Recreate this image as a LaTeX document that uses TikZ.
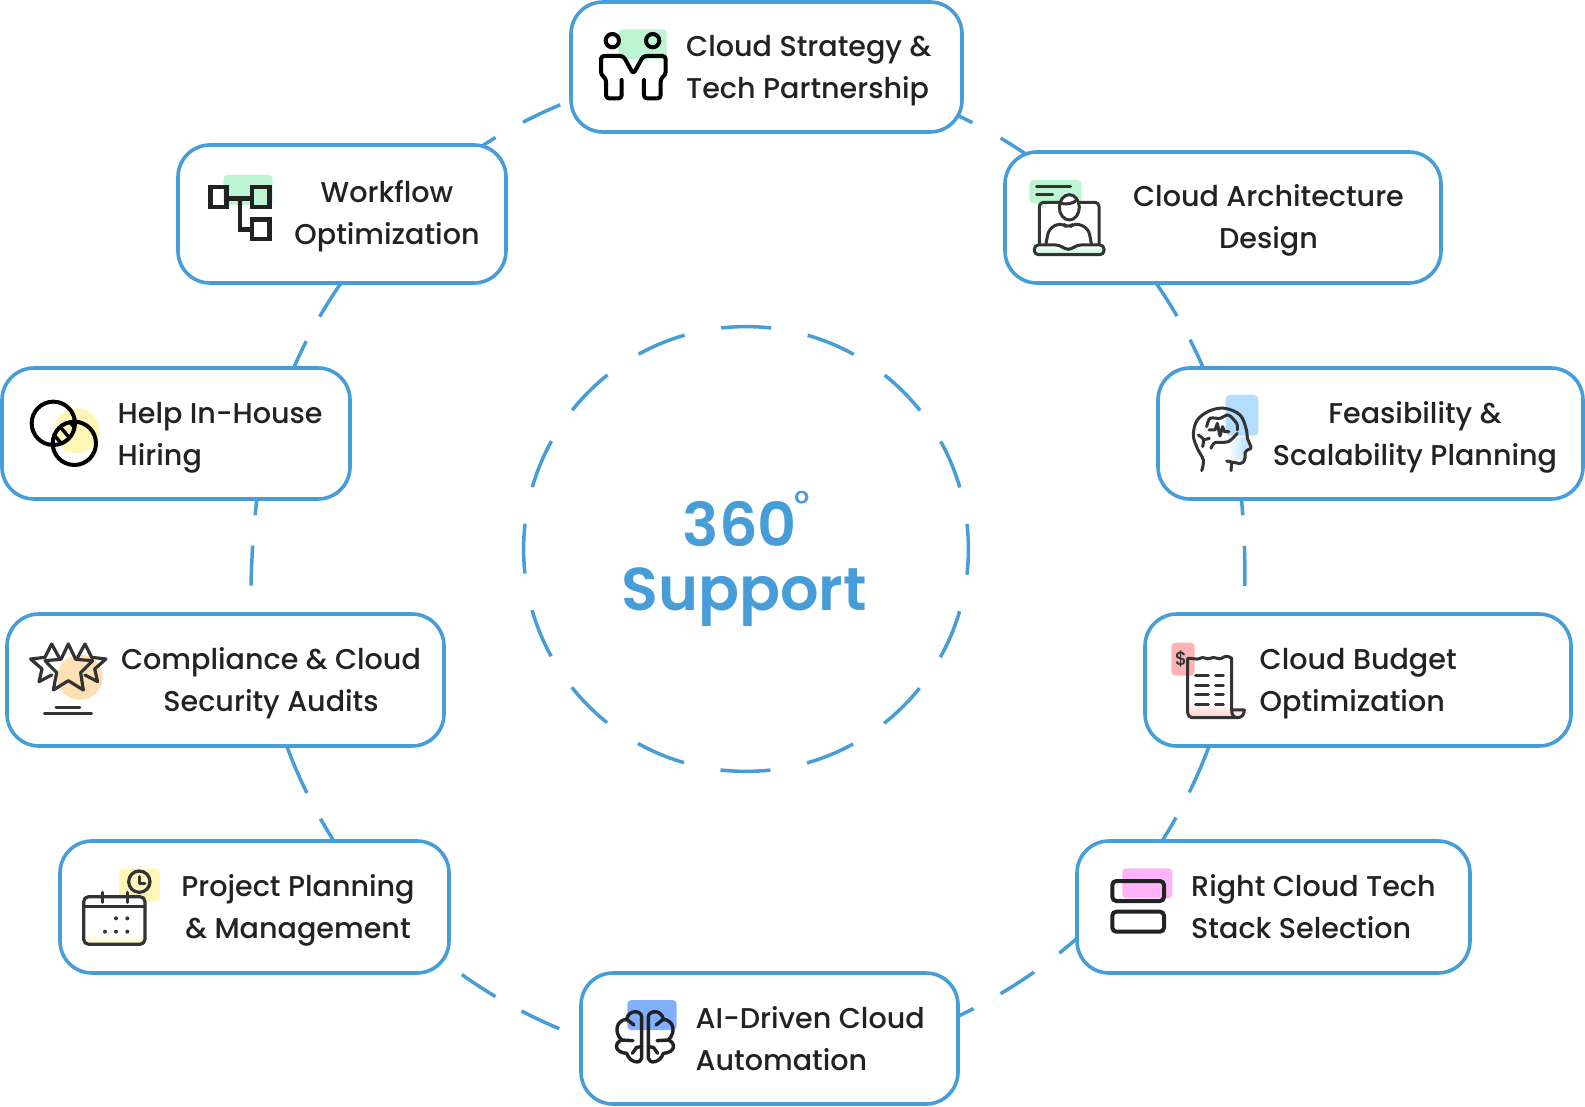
\documentclass[tikz,border=0pt]{standalone}
\usepackage{fontspec}
\setmainfont{Poppins}[UprightFont=* Medium,BoldFont=* SemiBold]
\usetikzlibrary{calc}
\definecolor{ringblue}{HTML}{469DD8}
\definecolor{inkdark}{HTML}{222222}
\definecolor{inkgrey}{HTML}{333333}
\definecolor{mint}{HTML}{BDF5D3}
\definecolor{skyb}{HTML}{B3DDFF}
\definecolor{rose}{HTML}{FFB3B3}
\definecolor{peach}{HTML}{FFE0B5}
\definecolor{lemon}{HTML}{FFF6B8}
\definecolor{cornb}{HTML}{82AFFF}
\definecolor{orchid}{HTML}{FFB3FA}
\newcommand\twolines[2]{\rule{0pt}{23pt}#1\\#2\rule[-9pt]{0pt}{9pt}}
\tikzset{
  x=1pt,y=-1pt,
  box/.style={draw=ringblue,line width=3.6pt,fill=white,rounded corners=32pt,outer sep=0pt,inner sep=0pt},
  lab/.style={text=inkdark,font=\fontsize{28.6}{42}\selectfont,inner sep=0pt},
  link/.style={draw=ringblue,line width=3.5pt,looseness=0.85},
  hubring/.style={circle,draw=ringblue,line width=3.5pt,inner sep=0pt,minimum size=444.8pt,outer sep=0pt,
    dash pattern=on 50pt off 37.3pt,dash phase=25pt},
  hubtext/.style={text=ringblue,inner sep=0pt,font=\fontsize{60.5}{64}\selectfont\bfseries},
  icn/.style={line width=#1,line cap=round,line join=round},
  icn/.default=3pt
}
\begin{document}
\begin{tikzpicture}
\useasboundingbox[fill=white] (0,0) rectangle (1585,1107);
% nodes are positioned first: connectors need them
\path
 (766.5,67) node[minimum width=391pt,minimum height=130pt] (top) {}
 (342,214) node[minimum width=328pt,minimum height=138pt] (workflow) {}
 (1223,217.5) node[minimum width=436pt,minimum height=131pt] (arch) {}
 (1370.5,433.5) node[minimum width=425pt,minimum height=131pt] (feas) {}
 (176,433.5) node[minimum width=348pt,minimum height=131pt] (help) {}
 (225.5,680) node[minimum width=437pt,minimum height=132pt] (comp) {}
 (1358,680) node[minimum width=426pt,minimum height=132pt] (budget) {}
 (254.5,907) node[minimum width=389pt,minimum height=132pt] (plan) {}
 (1273.5,907) node[minimum width=393pt,minimum height=132pt] (stack) {}
 (769.5,1038.5) node[minimum width=377pt,minimum height=131pt] (ai) {};
% dashed ring segments, from box to box
\draw[link,dash pattern=on 0pt off 15.7pt on 41.2pt off 31.3pt on 30pt off 500pt]
  ($(top.west)+(4,32)$) to[bend right=6.4] ($(workflow.north east)+(-30,5)$);
\draw[link,dash pattern=on 43.3pt off 27.9pt on 40pt off 500pt]
  ($(workflow.south)+(1,-3)$) to[bend right=6] ($(help.north)+(116,4)$);
\draw[link,dash pattern=on 21.6pt off 30.6pt on 40pt off 500pt]
  ($(help.south)+(81.5,-5.5)$) to[bend right=4] ($(comp.north)+(25.5,6)$);
\draw[link,dash pattern=on 56.2pt off 29.1pt on 40pt off 500pt]
  ($(comp.south)+(59.5,-5)$) to[bend right=6.8] ($(plan.north)+(82.5,5)$);
\draw[link,dash pattern=on 0pt off 27.1pt on 40.3pt off 29.9pt on 41.6pt off 500pt]
  ($(plan.south east)+(-9,-15)$) to[bend right=10] ($(ai.south west)+(9,-64)$);
\draw[link,dash pattern=on 25.9pt off 30.8pt on 40pt off 31.6pt on 40pt off 500pt]
  ($(ai.north east)+(-8,47)$) to[bend right=9] ($(stack.west)+(5,27)$);
\draw[link,dash pattern=on 33pt off 28.5pt on 60pt off 500pt]
  ($(stack.north)+(-114.5,5)$) to[bend right=6.5] ($(budget.south)+(-147,-5)$);
\draw[link,dash pattern=on 0pt off 34pt on 40pt off 30.6pt on 30pt off 500pt]
  ($(budget.north)+(-114,6)$) to[bend right=4] ($(feas.south)+(-129.5,-5.5)$);
\draw[link,dash pattern=on 35.4pt off 27pt on 50pt off 500pt]
  ($(feas.north)+(-165.5,4)$) to[bend right=6] ($(arch.south)+(-69,-3)$);
\draw[link,dash pattern=on 34.7pt off 32.1pt on 30pt off 500pt]
  ($(arch.north west)+(25,5)$) to[bend right=5.2] ($(top.east)+(-10,46)$);
% boxes on top
\foreach \n/\w/\h in {top/391/130,workflow/328/138,arch/436/131,feas/425/131,help/348/131,comp/437/132,budget/426/132,plan/389/132,stack/393/132,ai/377/131}{
  \node[box,minimum width=\w pt,minimum height=\h pt] at (\n.center) {};
}
% hub
\node[hubring] (hub) at (746,549) {};
\node[hubtext,anchor=base] (hubnum) at (740,546) {360\rlap{\hspace{-3pt}\raisebox{30pt}{\fontsize{36}{36}\selectfont\mdseries °}}};
\node[hubtext] (hubword) at (744,597) {Support};
% labels
\node[lab,align=left,anchor=west] (topL) at (686,70.7) {\twolines{Cloud Strategy \&}{Tech Partnership}};
\node[lab,align=center] (workflowL) at (387,216.8) {\twolines{Workflow}{Optimization}};
\node[lab,align=center] (archL) at (1268.5,220.3) {\twolines{Cloud Architecture}{Design}};
\node[lab,align=center] (feasL) at (1415,437.1) {\twolines{Feasibility \&}{Scalability Planning}};
\node[lab,align=left,anchor=west] (helpL) at (117.5,437.1) {\twolines{Help In-House}{Hiring}};
\node[lab,align=center] (compL) at (271,683.3) {\twolines{Compliance \& Cloud}{Security Audits}};
\node[lab,align=left,anchor=west] (budgetL) at (1259.5,683.3) {\twolines{Cloud Budget}{Optimization}};
\node[lab,align=center] (planL) at (298,910.2) {\twolines{Project Planning}{\& Management}};
\node[lab,align=left,anchor=west] (stackL) at (1191,910.2) {\twolines{Right Cloud Tech}{Stack Selection}};
\node[lab,align=left,anchor=west] (aiL) at (695.5,1042.1) {\twolines{AI-Driven Cloud}{Automation}};
% icon: partnership
\begin{scope}[shift={(570,0)},x=0.3333pt,y=-0.3333pt]
 \fill[mint,rounded corners=4pt] (145,88) rectangle (290,178);
 \draw[icn=4pt,black] (127,122) circle[radius=20] (248,122) circle[radius=20];
 \draw[icn=4pt,black,rounded corners=3pt] (155,240)--(155,295)--(108,295)--(108,235)--(93,225)--(93,168)--(160,168)--(190,222)--(220,168)--(287,168)--(287,225)--(272,235)--(272,295)--(222,295)--(222,240);
\end{scope}
% icon: architecture
\begin{scope}[shift={(1000,150)},x=0.3333pt,y=-0.3333pt]
 \fill[mint,rounded corners=4pt] (88,90) rectangle (245,160);
 \fill[mint] (118,160)--(145,160)--(125,175)--cycle;
 \draw[icn=3pt,inkgrey] (110,110)--(212,110) (110,133)--(158,133);
 \draw[icn=3pt,inkgrey,rounded corners=4pt] (175,157)--(118,157)--(118,282);
 \draw[icn=3pt,inkgrey,rounded corners=4pt] (240,157)--(297,157)--(297,282);
 \shade[top color=white,bottom color=mint] (105,287) rectangle (310,312);
 \draw[icn=3pt,inkgrey,rounded corners=4pt] (103,285)--(180,285)--(195,298)--(215,298)--(230,285)--(312,285)--(312,314)--(103,314)--cycle;
 \draw[icn=3pt,inkgrey,fill=white] (208,172) ellipse[x radius=30,y radius=38];
 \draw[icn=3pt,inkgrey] (180,160) .. controls (200,165) and (222,160) .. (230,150);
 \draw[icn=3pt,inkgrey,rounded corners=6pt] (138,280)--(147,235)--(185,218)--(205,235)--(225,218)--(265,235)--(274,280);
\end{scope}
% icon: feasibility
\begin{scope}[shift={(1160,380)},x=0.3333pt,y=-0.3333pt]
 \fill[skyb,rounded corners=4pt] (197,45) rectangle (295,167);
 \shade[shading angle=45,left color=white,right color=skyb] (205,240)--(255,240)--(255,215)--(272,205)--(255,170)--(235,170)--(200,215)--cycle;
 \draw[icn=3pt,inkgrey] plot[smooth,tension=0.6] coordinates {(125,272)(130,240)(112,205)(100,165)(112,120)(150,92)(195,85)(240,105)(258,145)(262,175)};
 \draw[icn=3pt,inkgrey,rounded corners=2pt] (262,175)--(275,205)--(255,213)--(255,240)--(245,252)--(200,243);
 \draw[icn=3pt,inkgrey] (215,250)--(213,272);
 \draw[icn=3pt,inkgrey] plot[smooth] coordinates {(140,140)(150,115)(180,115)(205,105)(230,130)(232,150)};
 \draw[icn=3pt,inkgrey] (147,150)--(165,150)--(172,130)--(180,168)--(188,140)--(193,155)--(207,155);
 \draw[icn=3pt,inkgrey] plot[smooth] coordinates {(115,165)(130,178)(128,200)};
 \draw[icn=3pt,inkgrey] (130,180)--(148,175);
 \draw[icn=3pt,inkgrey] plot[smooth] coordinates {(153,205)(165,188)(205,185)(232,160)};
\end{scope}
% icon: budget
\begin{scope}[shift={(1150,625)},x=0.3333pt,y=-0.3333pt]
 \fill[rose,rounded corners=4pt] (64,53) rectangle (134,152);
 \shade[top color=white,bottom color=rose!70] (114,235) rectangle (245,277);
 \draw[icn=3pt,inkgrey,fill=rose!35] (245,255)--(283,255) .. controls (283,270) and (275,278) .. (262,278) .. controls (250,278) and (245,268) .. (245,255);
 \draw[icn=3pt,inkgrey] (245,255)--(245,100) .. controls (235,92) and (225,92) .. (215,100) .. controls (205,106) and (195,92) .. (180,100) .. controls (170,106) and (160,92) .. (150,100) .. controls (140,106) and (125,98) .. (113,100)--(113,262) .. controls (113,272) and (120,278) .. (130,278)--(262,278);
 \foreach \yy in {153,182,210,240}{
   \draw[icn=3pt,inkgrey] (137,\yy)--(175,\yy) (197,\yy)--(220,\yy);
 }
 \node[text=inkgrey,inner sep=0pt,font=\fontsize{19}{19}\selectfont] (dollar) at (93,103) {\$};
\end{scope}
% icon: stars
\begin{scope}[shift={(10,620)},x=0.3333pt,y=-0.3333pt]
 \fill[peach] (210,172) circle[radius=68];
 \draw[icn=3.2pt,inkgrey] (125,165)--(87,185)--(96,147)--(62,117)--(105,112)--(125,72)--(147,112);
 \draw[icn=3.2pt,inkgrey] (225,165)--(263,185)--(254,147)--(288,117)--(245,112)--(225,72)--(203,112);
 \draw[icn=3.2pt,inkgrey] (175,72)--(197,118)--(248,122)--(212,158)--(220,210)--(175,182)--(130,210)--(140,158)--(105,122)--(153,118)--cycle;
 \draw[icn=3pt,inkgrey] (138,262)--(210,262) (103,282)--(245,282);
\end{scope}
% icon: calendar
\begin{scope}[shift={(70,855)},x=0.3333pt,y=-0.3333pt]
 \fill[lemon,rounded corners=4pt] (147,40) rectangle (270,140);
 \fill[white,rounded corners=4pt] (41,125) rectangle (225,268);
 \shade[top color=white,bottom color=lemon] (43,238) rectangle (223,266);
 \draw[icn=3.2pt,inkgrey] (208,80) circle[radius=32];
 \draw[icn=3pt,inkgrey] (208,65)--(208,85)--(225,85);
 \draw[icn=3.2pt,inkgrey,rounded corners=5pt] (41,125) rectangle (225,268);
 \draw[icn=3.2pt,inkgrey] (41,155)--(225,155) (97,112)--(97,142) (172,112)--(172,142);
 \fill[inkgrey] (138,190) circle[radius=6] (172,190) circle[radius=6] (105,230) circle[radius=6] (138,230) circle[radius=6] (172,230) circle[radius=6];
\end{scope}
% icon: brain
\begin{scope}[shift={(600,990)},x=0.3333pt,y=-0.3333pt]
 \fill[cornb,rounded corners=4pt] (82,30) rectangle (230,120);
 \foreach \sx in {1,-1}{
 \begin{scope}[shift={(135,0)},xscale=\sx]
  \draw[icn=3.4pt,inkdark] (10,205)--(10,80) .. controls (12,60) and (50,58) .. (55,88) .. controls (85,90) and (95,125) .. (70,150) .. controls (95,160) and (90,188) .. (55,190) .. controls (45,220) and (12,222) .. (10,205);
  \draw[icn=3.4pt,inkdark] (55,88)--(33,105) (70,150)--(36,152) (10,170)--(25,172)--(38,190);
 \end{scope}}
\end{scope}
% icon: workflow
\begin{scope}[shift={(190,165)},x=0.3333pt,y=-0.3333pt]
 \fill[mint,rounded corners=4pt] (100,30) rectangle (248,120);
 \draw[line width=4.4pt,inkdark] (62,66) rectangle (110,126) (186,66) rectangle (238,126) (186,163) rectangle (238,222);
 \draw[line width=4.4pt,inkdark] (110,100)--(186,100) (150,100)--(150,193)--(186,193);
\end{scope}
% icon: circles
\begin{scope}[shift={(20,390)},x=0.3333pt,y=-0.3333pt]
 \fill[lemon] (170,122) circle[radius=68];
 \begin{scope}
  \clip (100,100) circle[radius=65];
  \clip (163,160) circle[radius=65];
  \draw[line width=3.4pt,black] (98,130)--(128,165) (118,108)--(150,145) (140,85)--(170,120);
 \end{scope}
 \draw[line width=4pt,black] (100,100) circle[radius=65] (163,160) circle[radius=65];
\end{scope}
% icon: stack
\begin{scope}[shift={(1100,855)},x=0.3333pt,y=-0.3333pt]
 \fill[orchid,rounded corners=4pt] (67,40) rectangle (217,130);
 \draw[line width=4pt,inkdark,rounded corners=4pt] (37,78) rectangle (192,138) (37,170) rectangle (192,230);
\end{scope}
\end{tikzpicture}
\end{document}
